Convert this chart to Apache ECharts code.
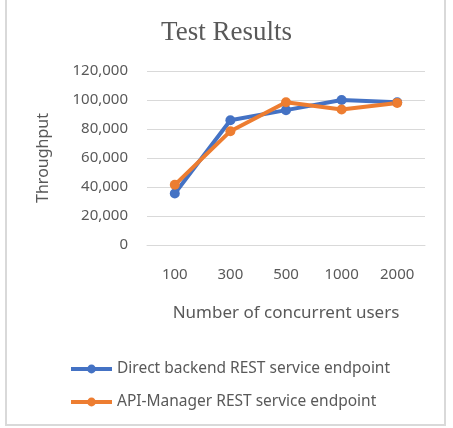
<!DOCTYPE html>
<html>
<head>
<meta charset="utf-8">
<script src="https://cdn.jsdelivr.net/npm/echarts@6/dist/echarts.min.js"></script>
<style>
  html, body { margin: 0; padding: 0; background: #fff; }
  #chart { width: 453px; height: 428px; }
</style>
</head>
<body>
<div id="chart"></div>
<script>
// categories (x axis)
const users = ['100', '300', '500', '1000', '2000']
// throughput values
const directBackend = [35500, 86000, 93000, 100000, 98500]
const apiManager = [41500, 78500, 98500, 93500, 98000]

const textColor = '#595959'
const gridColor = '#d9d9d9'

const chart = echarts.init(document.getElementById('chart'))

chart.setOption({
  animation: false,
  title: {
    text: 'Test Results',
    left: 'center',
    top: 14,
    textStyle: {
      fontFamily: 'Liberation Serif',
      fontWeight: 'normal',
      fontSize: 27,
      color: textColor
    }
  },
  grid: {
    left: 147,
    right: 28,
    top: 71,
    bottom: 183,
    outerBoundsMode: 'none'
  },
  legend: {
    orient: 'vertical',
    left: 64,
    top: 356,
    itemWidth: 41,
    itemHeight: 11,
    itemGap: 17,
    lineStyle: { width: 4 },
    textStyle: { color: textColor, fontSize: 15.5, fontFamily: 'Noto Sans' },
    data: ['Direct backend REST service endpoint', 'API-Manager REST service endpoint']
  },
  xAxis: {
    type: 'category',
    data: users,
    name: 'Number of concurrent users',
    nameLocation: 'middle',
    nameGap: 60,
    nameTextStyle: { color: textColor, fontSize: 17, fontFamily: 'Noto Sans' },
    axisLine: { lineStyle: { color: gridColor } },
    axisTick: { show: false },
    axisLabel: { color: textColor, fontSize: 15, margin: 22, fontFamily: 'Noto Sans' }
  },
  yAxis: {
    type: 'value',
    min: 0,
    max: 120000,
    interval: 20000,
    name: 'Throughput',
    nameLocation: 'middle',
    nameGap: 96,
    nameTextStyle: { color: textColor, fontSize: 16, fontFamily: 'Noto Sans' },
    axisLine: { show: false },
    axisTick: { show: false },
    splitLine: { lineStyle: { color: gridColor, width: 1 } },
    axisLabel: {
      color: textColor,
      fontSize: 15,
      margin: 19,
      fontFamily: 'Noto Sans',
      formatter: (v) => v.toLocaleString('en-US')
    }
  },
  graphic: [
    {
      type: 'rect',
      shape: { x: 6, y: -5, width: 439, height: 430 },
      style: { fill: 'none', stroke: gridColor, lineWidth: 2 },
      silent: true
    }
  ],
  series: [
    {
      name: 'Direct backend REST service endpoint',
      type: 'line',
      data: directBackend,
      symbol: 'circle',
      symbolSize: 10,
      lineStyle: { color: '#4472C4', width: 4 },
      itemStyle: { color: '#4472C4' }
    },
    {
      name: 'API-Manager REST service endpoint',
      type: 'line',
      data: apiManager,
      symbol: 'circle',
      symbolSize: 10,
      lineStyle: { color: '#ED7D31', width: 4 },
      itemStyle: { color: '#ED7D31' }
    }
  ]
})
</script>
</body>
</html>
